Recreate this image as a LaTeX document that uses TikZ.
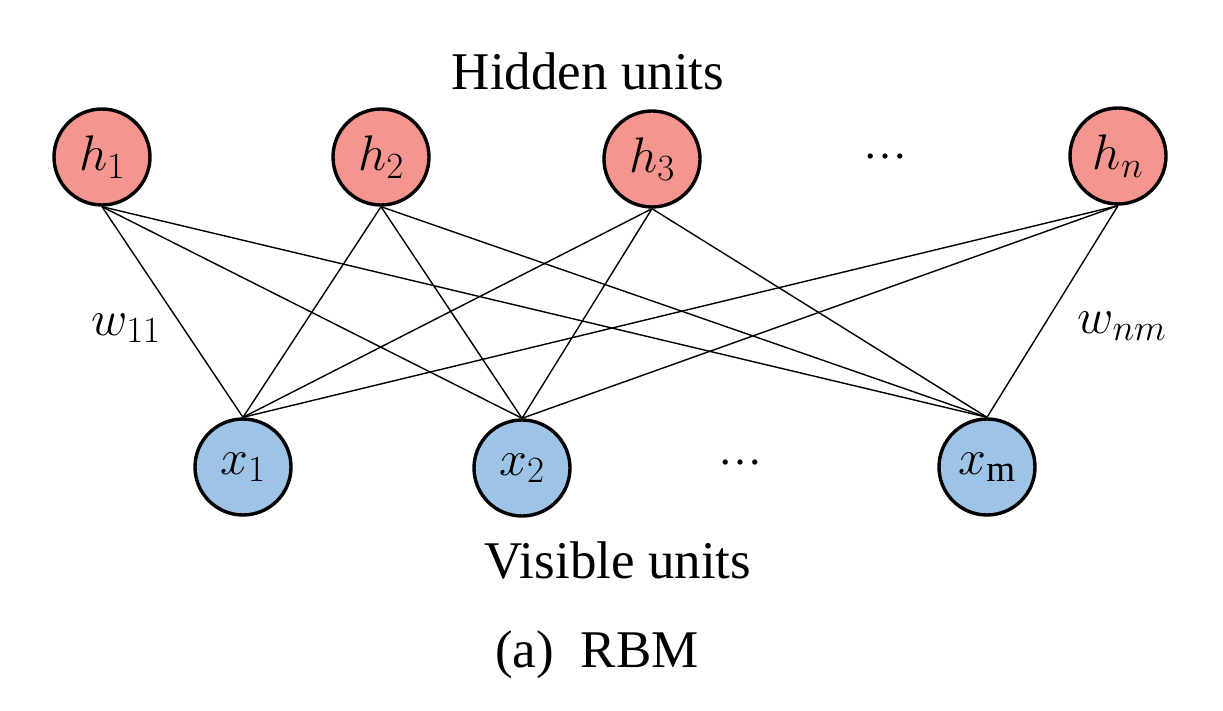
\RequirePackage{fix-cm}
\documentclass[tikz,border=0pt]{standalone}
\usepackage{fontspec}
\setmainfont{Liberation Serif}
\DeclareMathSizes{50}{50}{37}{28}
\begin{document}
\begin{tikzpicture}[x=1pt,y=-1pt,
  unit/.style={circle,draw=black,line width=3.4pt,minimum size=96pt,inner sep=0pt,
               font=\fontsize{50}{54}\selectfont},
  hid/.style={unit,fill=hidfill},
  vis/.style={unit,fill=visfill},
  wire/.style={line width=1.4pt,black},
  caption/.style={anchor=base,font=\fontsize{53}{60}\selectfont},
  mlabel/.style={anchor=base,font=\fontsize{50}{54}\selectfont},
  dots/.style={anchor=base,font=\fontsize{44}{48}\selectfont}]
\definecolor{hidfill}{RGB}{244,150,143}
\definecolor{visfill}{RGB}{157,195,230}
\useasboundingbox (0,0) rectangle (1223,711);

% unit centres
\coordinate (ch1) at (102,157);
\coordinate (ch2) at (381,157);
\coordinate (ch3) at (652,159);
\coordinate (chn) at (1118,156);
\coordinate (cx1) at (243,467);
\coordinate (cx2) at (522,468);
\coordinate (cxm) at (987,467);

% visible layer
\node[vis] (x1) at (cx1) {$x_1$};
\node[vis] (x2) at (cx2) {$x_2$};
\node[vis] (xm) at (cxm) {$x_{\mathrm{m}}$};
\node[dots] (vdots) at (740,464) {…};

% hidden layer
\node[hid] (h1) at (ch1) {$h_1$};
\node[hid] (h2) at (ch2) {$h_2$};
\node[hid] (h3) at (ch3) {$h_3$};
\node[hid] (hn) at (chn) {$h_n$};
\node[dots] (hdots) at (885,159) {…};

% full bipartite connections
\foreach \h in {h1,h2,h3,hn}
  \foreach \v in {x1,x2,xm}
    \draw[wire] (\h.south) -- (\v.north);

% weight labels
\node[mlabel] (w11) at (126,335) {$w_{11}$};
\node[mlabel] (wnm) at (1122,333) {$w_{nm}$};

% titles
\node[caption] (ht) at (588,90) {Hidden units};
\node[caption] (vt) at (618,578) {Visible units};
\node[caption] (cap) at (597,667) {(a)\hspace{27pt}RBM};
\end{tikzpicture}
\end{document}
